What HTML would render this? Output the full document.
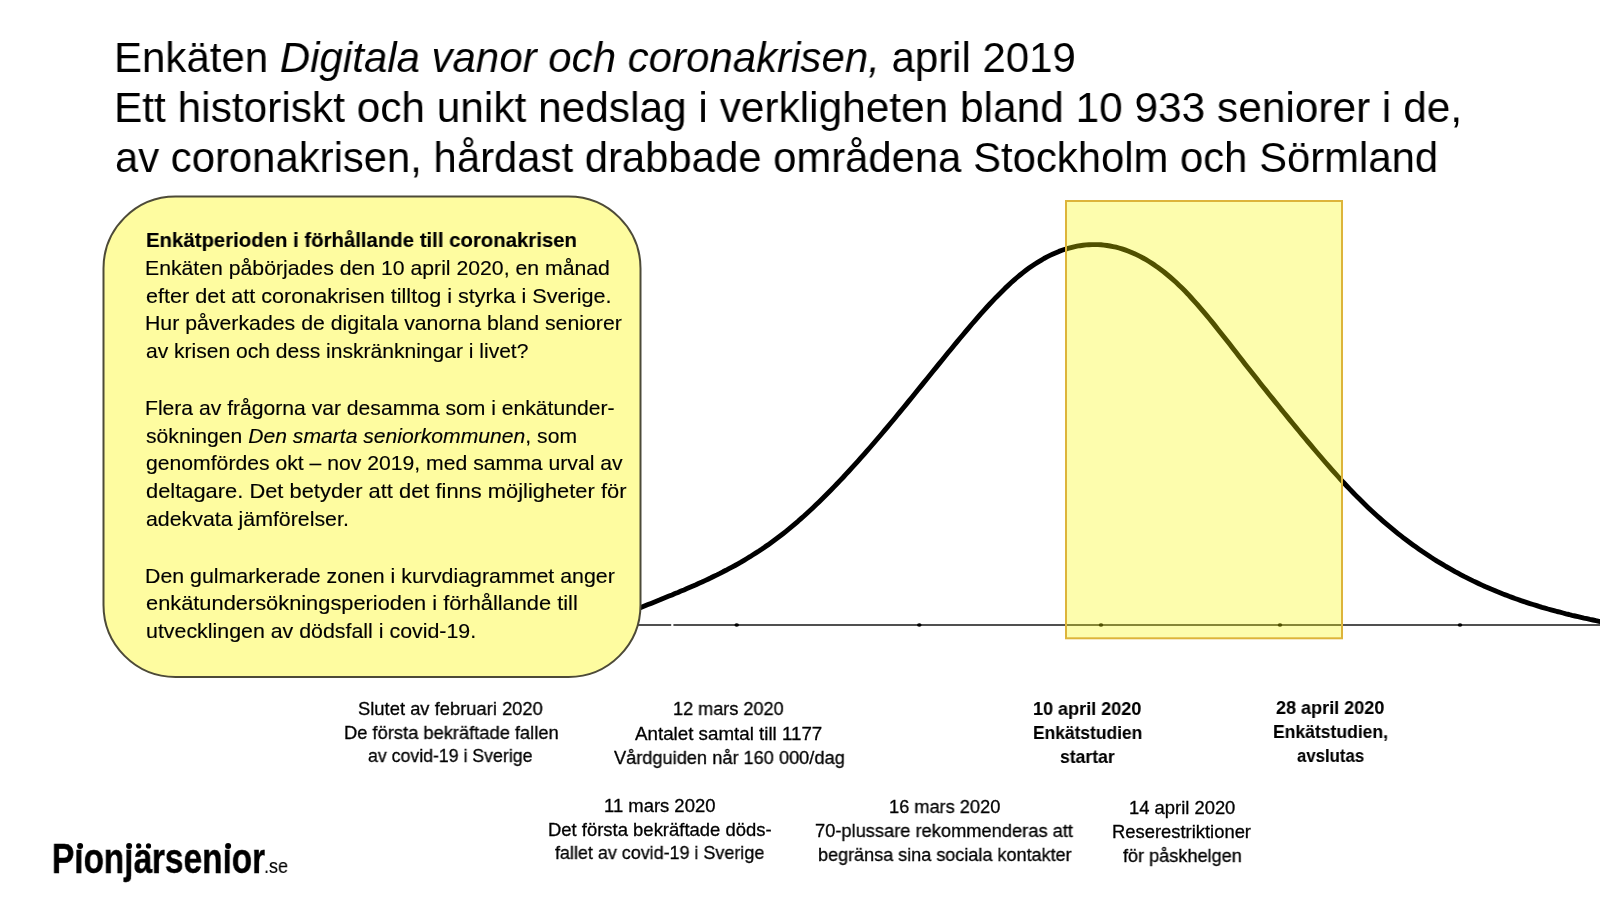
<!DOCTYPE html>
<html><head><meta charset="utf-8"><title>Enkäten Digitala vanor och coronakrisen</title>
<style>
html,body{margin:0;padding:0;background:#fff;}
body{width:1600px;height:900px;position:relative;overflow:hidden;font-family:"Liberation Sans",sans-serif;color:#000;}
.t{position:absolute;white-space:pre;line-height:1;transform-origin:0 0;will-change:transform;}
svg{position:absolute;left:0;top:0;}
</style></head><body>
<svg width="1600" height="900" viewBox="0 0 1600 900">
<line x1="630" y1="625" x2="1600" y2="625" stroke="#505050" stroke-width="2.2"/><rect x="671.2" y="622" width="2.2" height="6" fill="#fff"/>
<ellipse cx="736.7" cy="625" rx="2.3" ry="1.8" fill="#000"/><ellipse cx="919.3" cy="625" rx="2.3" ry="1.8" fill="#000"/><ellipse cx="1101" cy="625" rx="2.3" ry="1.8" fill="#000"/><ellipse cx="1280" cy="625" rx="2.3" ry="1.8" fill="#000"/><ellipse cx="1460" cy="625" rx="2.3" ry="1.8" fill="#000"/>
<g fill="#000"><circle cx="80.1" cy="845.9" r="3"/><circle cx="129.1" cy="845.9" r="3"/><circle cx="138.7" cy="845.9" r="2.6"/><circle cx="148.5" cy="845.9" r="2.6"/><circle cx="228.1" cy="845.9" r="3"/></g>
<path d="M636.0,609.5 L639.0,608.2 L642.0,607.0 L645.0,605.8 L648.0,604.6 L651.0,603.4 L654.0,602.2 L657.0,601.0 L660.0,599.8 L663.0,598.5 L666.0,597.3 L669.0,596.1 L672.0,594.9 L675.0,593.6 L678.0,592.4 L681.0,591.1 L684.0,589.9 L687.0,588.6 L690.0,587.3 L693.0,586.0 L696.0,584.7 L699.0,583.3 L702.0,582.0 L705.0,580.6 L708.0,579.2 L711.0,577.8 L714.0,576.3 L717.0,574.9 L720.0,573.4 L723.0,571.8 L726.0,570.3 L729.0,568.7 L732.0,567.1 L735.0,565.5 L738.0,563.8 L741.0,562.1 L744.0,560.3 L747.0,558.5 L750.0,556.7 L753.0,554.8 L756.0,552.9 L759.0,551.0 L762.0,549.0 L765.0,546.9 L768.0,544.9 L771.0,542.7 L774.0,540.5 L777.0,538.3 L780.0,536.0 L783.0,533.7 L786.0,531.3 L789.0,528.9 L792.0,526.4 L795.0,523.8 L798.0,521.3 L801.0,518.6 L804.0,516.0 L807.0,513.2 L810.0,510.5 L813.0,507.7 L816.0,504.8 L819.0,501.9 L822.0,499.0 L825.0,496.0 L828.0,493.0 L831.0,490.0 L834.0,486.9 L837.0,483.8 L840.0,480.6 L843.0,477.5 L846.0,474.2 L849.0,471.0 L852.0,467.7 L855.0,464.4 L858.0,461.1 L861.0,457.7 L864.0,454.3 L867.0,450.9 L870.0,447.5 L873.0,444.0 L876.0,440.5 L879.0,437.0 L882.0,433.5 L885.0,429.9 L888.0,426.4 L891.0,422.8 L894.0,419.2 L897.0,415.5 L900.0,411.9 L903.0,408.2 L906.0,404.6 L909.0,400.9 L912.0,397.2 L915.0,393.5 L918.0,389.8 L921.0,386.1 L924.0,382.4 L927.0,378.7 L930.0,375.0 L933.0,371.3 L936.0,367.6 L939.0,363.9 L942.0,360.2 L945.0,356.5 L948.0,352.8 L951.0,349.2 L954.0,345.5 L957.0,341.9 L960.0,338.3 L963.0,334.7 L966.0,331.1 L969.0,327.6 L972.0,324.0 L975.0,320.6 L978.0,317.1 L981.0,313.7 L984.0,310.3 L987.0,307.0 L990.0,303.8 L993.0,300.6 L996.0,297.4 L999.0,294.4 L1002.0,291.4 L1005.0,288.4 L1008.0,285.6 L1011.0,282.8 L1014.0,280.1 L1017.0,277.5 L1020.0,275.0 L1023.0,272.6 L1026.0,270.3 L1029.0,268.1 L1032.0,266.0 L1035.0,264.0 L1038.0,262.1 L1041.0,260.3 L1044.0,258.5 L1047.0,256.9 L1050.0,255.4 L1053.0,254.0 L1056.0,252.7 L1059.0,251.4 L1062.0,250.3 L1065.0,249.3 L1068.0,248.4 L1071.0,247.6 L1074.0,246.8 L1077.0,246.2 L1080.0,245.7 L1083.0,245.3 L1086.0,244.9 L1089.0,244.7 L1092.0,244.6 L1095.0,244.6 L1098.0,244.6 L1101.0,244.8 L1104.0,245.1 L1107.0,245.5 L1110.0,246.0 L1113.0,246.6 L1116.0,247.2 L1119.0,248.0 L1122.0,248.9 L1125.0,249.9 L1128.0,251.0 L1131.0,252.2 L1134.0,253.5 L1137.0,254.9 L1140.0,256.4 L1143.0,258.0 L1146.0,259.7 L1149.0,261.5 L1152.0,263.4 L1155.0,265.4 L1158.0,267.5 L1161.0,269.7 L1164.0,272.0 L1167.0,274.5 L1170.0,277.0 L1173.0,279.6 L1176.0,282.3 L1179.0,285.2 L1182.0,288.1 L1185.0,291.1 L1188.0,294.2 L1191.0,297.5 L1194.0,300.8 L1197.0,304.1 L1200.0,307.6 L1203.0,311.1 L1206.0,314.6 L1209.0,318.3 L1212.0,321.9 L1215.0,325.6 L1218.0,329.4 L1221.0,333.2 L1224.0,337.0 L1227.0,340.8 L1230.0,344.6 L1233.0,348.5 L1236.0,352.3 L1239.0,356.2 L1242.0,360.0 L1245.0,363.9 L1248.0,367.7 L1251.0,371.5 L1254.0,375.3 L1257.0,379.1 L1260.0,382.9 L1263.0,386.7 L1266.0,390.4 L1269.0,394.2 L1272.0,397.9 L1275.0,401.6 L1278.0,405.3 L1281.0,409.1 L1284.0,412.7 L1287.0,416.4 L1290.0,420.1 L1293.0,423.8 L1296.0,427.4 L1299.0,431.0 L1302.0,434.7 L1305.0,438.3 L1308.0,441.9 L1311.0,445.4 L1314.0,449.0 L1317.0,452.5 L1320.0,456.0 L1323.0,459.5 L1326.0,463.0 L1329.0,466.4 L1332.0,469.8 L1335.0,473.1 L1338.0,476.5 L1341.0,479.8 L1344.0,483.0 L1347.0,486.2 L1350.0,489.4 L1353.0,492.5 L1356.0,495.6 L1359.0,498.6 L1362.0,501.6 L1365.0,504.5 L1368.0,507.4 L1371.0,510.2 L1374.0,513.0 L1377.0,515.7 L1380.0,518.4 L1383.0,521.1 L1386.0,523.7 L1389.0,526.2 L1392.0,528.7 L1395.0,531.2 L1398.0,533.6 L1401.0,535.9 L1404.0,538.3 L1407.0,540.5 L1410.0,542.8 L1413.0,545.0 L1416.0,547.1 L1419.0,549.2 L1422.0,551.3 L1425.0,553.3 L1428.0,555.3 L1431.0,557.3 L1434.0,559.2 L1437.0,561.1 L1440.0,562.9 L1443.0,564.7 L1446.0,566.5 L1449.0,568.2 L1452.0,569.9 L1455.0,571.6 L1458.0,573.2 L1461.0,574.8 L1464.0,576.4 L1467.0,577.9 L1470.0,579.4 L1473.0,580.9 L1476.0,582.3 L1479.0,583.7 L1482.0,585.1 L1485.0,586.5 L1488.0,587.8 L1491.0,589.1 L1494.0,590.3 L1497.0,591.6 L1500.0,592.8 L1503.0,594.0 L1506.0,595.1 L1509.0,596.3 L1512.0,597.4 L1515.0,598.5 L1518.0,599.5 L1521.0,600.6 L1524.0,601.6 L1527.0,602.6 L1530.0,603.6 L1533.0,604.5 L1536.0,605.4 L1539.0,606.4 L1542.0,607.3 L1545.0,608.1 L1548.0,609.0 L1551.0,609.8 L1554.0,610.6 L1557.0,611.5 L1560.0,612.2 L1563.0,613.0 L1566.0,613.8 L1569.0,614.5 L1572.0,615.3 L1575.0,616.0 L1578.0,616.7 L1581.0,617.4 L1584.0,618.1 L1587.0,618.7 L1590.0,619.4 L1593.0,620.0 L1596.0,620.7 L1599.0,621.3 L1602.0,621.9 L1605.0,622.6" fill="none" stroke="#000" stroke-width="4.9" stroke-linecap="round" stroke-linejoin="round"/>
<rect x="103.5" y="196.5" width="537" height="480.5" rx="72" ry="72" fill="#FEFCA0" stroke="#4d4a38" stroke-width="2"/>
<rect x="1066" y="201" width="276" height="437.3" fill="rgba(250,250,0,0.32)" stroke="#DDB43A" stroke-width="2"/>
</svg>
<div class="t" style="left:113.61px;top:36.05px;font-size:43.2px;transform:scaleX(0.9725)">Enkäten <i>Digitala vanor och coronakrisen,</i> april 2019</div><div class="t" style="left:113.57px;top:86.05px;font-size:43.2px;transform:scaleX(0.9817)">Ett historiskt och unikt nedslag i verkligheten bland 10 933 seniorer i de,</div><div class="t" style="left:114.76px;top:136.35px;font-size:43.2px;transform:scaleX(0.9686)">av coronakrisen, hårdast drabbade områdena Stockholm och Sörmland</div><div class="t" style="left:146.12px;top:229.70px;font-size:20.8px;font-weight:bold;-webkit-text-stroke:0.15px #000;transform:scaleX(0.9788)">Enkätperioden i förhållande till coronakrisen</div><div class="t" style="left:145.06px;top:257.70px;font-size:20.8px;-webkit-text-stroke:0.15px #000;transform:scaleX(1.0204)">Enkäten påbörjades den 10 april 2020, en månad</div><div class="t" style="left:146.06px;top:285.50px;font-size:20.8px;-webkit-text-stroke:0.15px #000;transform:scaleX(1.0379)">efter det att coronakrisen tilltog i styrka i Sverige.</div><div class="t" style="left:145.05px;top:313.30px;font-size:20.8px;-webkit-text-stroke:0.15px #000;transform:scaleX(1.0235)">Hur påverkades de digitala vanorna bland seniorer</div><div class="t" style="left:146.09px;top:341.30px;font-size:20.8px;-webkit-text-stroke:0.15px #000;transform:scaleX(1.0117)">av krisen och dess inskränkningar i livet?</div><div class="t" style="left:145.07px;top:397.70px;font-size:20.8px;-webkit-text-stroke:0.15px #000;transform:scaleX(1.0154)">Flera av frågorna var desamma som i enkätunder-</div><div class="t" style="left:146.08px;top:425.50px;font-size:20.8px;-webkit-text-stroke:0.15px #000;transform:scaleX(1.0159)">sökningen <i>Den smarta seniorkommunen</i>, som</div><div class="t" style="left:146.08px;top:453.30px;font-size:20.8px;-webkit-text-stroke:0.15px #000;transform:scaleX(1.0180)">genomfördes okt – nov 2019, med samma urval av</div><div class="t" style="left:146.05px;top:481.30px;font-size:20.8px;-webkit-text-stroke:0.15px #000;transform:scaleX(1.0521)">deltagare. Det betyder att det finns möjligheter för</div><div class="t" style="left:146.07px;top:509.20px;font-size:20.8px;-webkit-text-stroke:0.15px #000;transform:scaleX(1.0262)">adekvata jämförelser.</div><div class="t" style="left:145.05px;top:565.60px;font-size:20.8px;-webkit-text-stroke:0.15px #000;transform:scaleX(1.0262)">Den gulmarkerade zonen i kurvdiagrammet anger</div><div class="t" style="left:146.05px;top:593.20px;font-size:20.8px;-webkit-text-stroke:0.15px #000;transform:scaleX(1.0491)">enkätundersökningsperioden i förhållande till</div><div class="t" style="left:146.07px;top:620.80px;font-size:20.8px;-webkit-text-stroke:0.15px #000;transform:scaleX(1.0274)">utvecklingen av dödsfall i covid-19.</div><div class="t" style="left:358.20px;top:699.73px;font-size:18.4px;-webkit-text-stroke:0.3px #000;transform:scaleX(0.9989)">Slutet av februari 2020</div><div class="t" style="left:343.60px;top:723.53px;font-size:18.4px;-webkit-text-stroke:0.3px #000;transform:scaleX(0.9953)">De första bekräftade fallen</div><div class="t" style="left:368.24px;top:747.33px;font-size:18.4px;-webkit-text-stroke:0.3px #000;transform:scaleX(0.9633)">av covid-19 i Sverige</div><div class="t" style="left:672.82px;top:700.43px;font-size:18.4px;-webkit-text-stroke:0.3px #000;transform:scaleX(0.9838)">12 mars 2020</div><div class="t" style="left:635.00px;top:724.53px;font-size:18.4px;-webkit-text-stroke:0.3px #000;transform:scaleX(1.0197)">Antalet samtal till 1177</div><div class="t" style="left:613.60px;top:748.53px;font-size:18.4px;-webkit-text-stroke:0.3px #000;transform:scaleX(0.9897)">Vårdguiden når 160 000/dag</div><div class="t" style="left:604.00px;top:796.73px;font-size:18.4px;-webkit-text-stroke:0.3px #000;transform:scaleX(1.0028)">11 mars 2020</div><div class="t" style="left:548.00px;top:820.73px;font-size:18.4px;-webkit-text-stroke:0.3px #000;transform:scaleX(1.0032)">Det första bekräftade döds-</div><div class="t" style="left:555.20px;top:844.43px;font-size:18.4px;-webkit-text-stroke:0.3px #000;transform:scaleX(0.9748)">fallet av covid-19 i Sverige</div><div class="t" style="left:889.01px;top:798.03px;font-size:18.4px;-webkit-text-stroke:0.3px #000;transform:scaleX(0.9901)">16 mars 2020</div><div class="t" style="left:814.71px;top:821.73px;font-size:18.4px;-webkit-text-stroke:0.3px #000;transform:scaleX(0.9934)">70-plussare rekommenderas att</div><div class="t" style="left:817.72px;top:845.73px;font-size:18.4px;-webkit-text-stroke:0.3px #000;transform:scaleX(0.9805)">begränsa sina sociala kontakter</div><div class="t" style="left:1033.32px;top:699.93px;font-size:18.4px;font-weight:bold;-webkit-text-stroke:0.1px #000;transform:scaleX(0.9807)">10 april 2020</div><div class="t" style="left:1033.35px;top:723.93px;font-size:18.4px;font-weight:bold;-webkit-text-stroke:0.1px #000;transform:scaleX(0.9460)">Enkätstudien</div><div class="t" style="left:1059.64px;top:747.53px;font-size:18.4px;font-weight:bold;-webkit-text-stroke:0.1px #000;transform:scaleX(0.9571)">startar</div><div class="t" style="left:1276.32px;top:698.73px;font-size:18.4px;font-weight:bold;-webkit-text-stroke:0.1px #000;transform:scaleX(0.9807)">28 april 2020</div><div class="t" style="left:1273.35px;top:723.13px;font-size:18.4px;font-weight:bold;-webkit-text-stroke:0.1px #000;transform:scaleX(0.9534)">Enkätstudien,</div><div class="t" style="left:1297.09px;top:746.73px;font-size:18.4px;font-weight:bold;-webkit-text-stroke:0.1px #000;transform:scaleX(0.9111)">avslutas</div><div class="t" style="left:1129.00px;top:798.93px;font-size:18.4px;-webkit-text-stroke:0.3px #000;transform:scaleX(1.0000)">14 april 2020</div><div class="t" style="left:1112.00px;top:822.53px;font-size:18.4px;-webkit-text-stroke:0.3px #000;transform:scaleX(1.0000)">Reserestriktioner</div><div class="t" style="left:1123.20px;top:846.93px;font-size:18.4px;-webkit-text-stroke:0.3px #000;transform:scaleX(0.9842)">för påskhelgen</div><div class="t" style="left:52.30px;top:837.52px;font-size:41.7px;font-weight:bold;-webkit-text-stroke:0.4px #000;transform:scaleX(0.7996)">Pıonȷarsenıor</div><div class="t" style="left:263.87px;top:855.80px;font-size:20.8px;-webkit-text-stroke:0.15px #000;transform:scaleX(0.8640)">.se</div>
</body></html>
